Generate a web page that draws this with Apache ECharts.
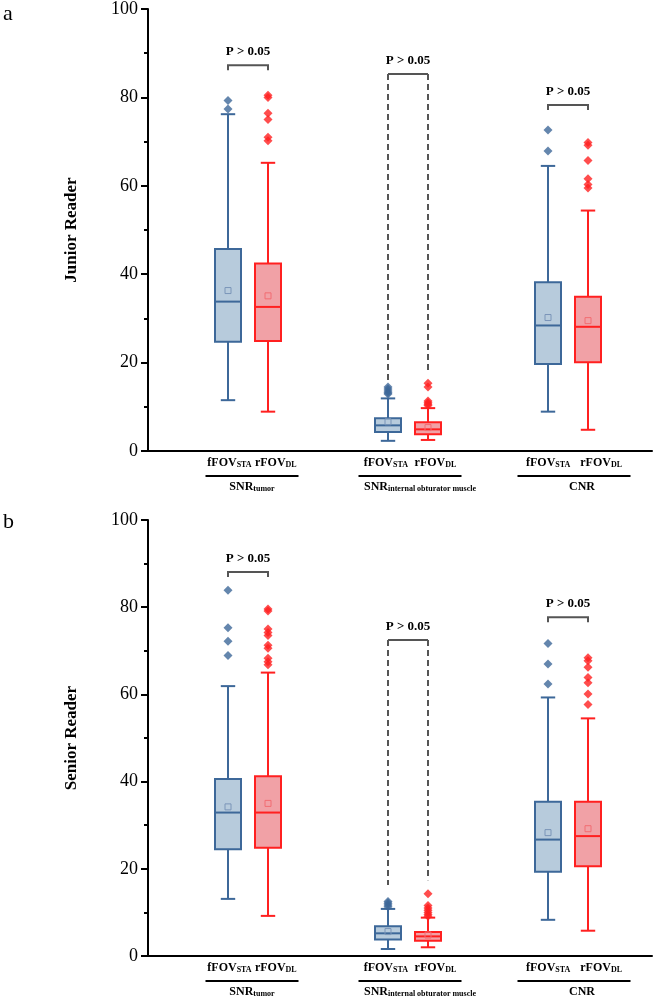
<!DOCTYPE html>
<html>
<head>
<meta charset="utf-8">
<script src="https://cdn.jsdelivr.net/npm/echarts@6/dist/echarts.min.js"></script>
<style>
html, body { margin: 0; padding: 0; background: #fff; }
#chart { width: 654px; height: 999px; }
</style>
</head>
<body>
<div id="chart"></div>
<script>
// box positions on the x value axis: fFOV_STA / rFOV_DL for each measure
var xPos = [2, 3, 6, 7, 10, 11];
var groupPos = [2.6, 6.55, 10.65];
var namePos = [2.6, 6.8, 10.85];
var rowLabels = ['{m|fFOV}{s|STA} {m|rFOV}{s|DL}', '{m|fFOV}{s|STA}  {m|rFOV}{s|DL}', '{m|fFOV}{s|STA}   {m|rFOV}{s|DL}'];
var groupNames = ['{m|SNR}{s|tumor}', '{m|SNR}{s|internal obturator muscle}', '{m|CNR}'];
var pText = 'P > 0.05';

// [min, Q1, median, Q3, max] per measure (SNR tumor, SNR muscle, CNR)
var juniorSTA = [[11.5, 24.7, 33.8, 45.7, 76.2], [2.3, 4.3, 5.8, 7.4, 11.9], [8.9, 19.7, 28.4, 38.2, 64.5]];
var juniorDL = [[8.9, 24.9, 32.6, 42.4, 65.2], [2.5, 3.8, 4.9, 6.5, 9.7], [4.8, 20.1, 28.1, 34.9, 54.4]];
var juniorMeanSTA = [36.3, 6.6, 30.2];
var juniorMeanDL = [35.1, 5.3, 29.5];
var juniorOutSTA = [[79.3, 77.4], [14.5, 14.0, 13.6, 13.2, 12.9], [72.6, 67.9]];
var juniorOutDL = [[80.5, 80.0, 76.4, 75.0, 71.0, 70.2], [15.3, 14.5, 11.3, 10.9, 10.6, 10.3], [69.8, 69.2, 65.7, 61.6, 60.3, 59.5]];
// [x1, x2, bracket y, dashed end 1, dashed end 2] (0 = short leg)
var juniorP = [[2, 3, 87.3, 0, 0], [6, 7, 85.3, 15.7, 17.6], [10, 11, 78.3, 0, 0]];

var seniorSTA = [[13.1, 24.5, 32.9, 40.6, 61.9], [1.6, 3.8, 5.2, 6.8, 10.8], [8.3, 19.3, 26.7, 35.4, 59.3]];
var seniorDL = [[9.2, 24.8, 32.9, 41.2, 65.0], [2.0, 3.5, 4.5, 5.5, 8.8], [5.8, 20.6, 27.5, 35.4, 54.5]];
var seniorMeanSTA = [34.2, 5.6, 28.3];
var seniorMeanDL = [35.0, 4.8, 29.2];
var seniorOutSTA = [[83.9, 75.3, 72.2, 68.9], [12.5, 12.1, 11.7, 11.3], [71.7, 67.0, 62.4]];
var seniorOutDL = [[79.6, 79.1, 75.0, 74.2, 73.5, 71.3, 70.6, 68.3, 67.5, 66.8], [14.3, 11.6, 11.0, 10.5, 10.0, 9.5, 9.1], [68.4, 67.7, 66.2, 63.9, 62.7, 60.1, 57.7]];
var seniorP = [[2, 3, 88.1, 0, 0], [6, 7, 72.5, 16.3, 17.4], [10, 11, 77.7, 0, 0]];

var FONT = '"Liberation Serif", "Times New Roman", serif';
var strokeCol = ['#3d6899', '#ff2020'];
var fillCol = ['#b7cbdc', '#f1a1a6'];
var meanCol = ['#7a95b8', '#f26d72'];

var subRich = {
    m: { fontFamily: FONT, fontSize: 12, fontWeight: 'bold', color: '#000', fill: '#000' },
    s: { fontFamily: FONT, fontSize: 8, fontWeight: 'bold', color: '#000', fill: '#000', verticalAlign: 'bottom', lineHeight: 6 }
};

function boxData(sta, dl, mSta, mDl) {
    var out = [];
    for (var g = 0; g < 3; g++) {
        out.push([xPos[g * 2]].concat(sta[g], [mSta[g], 0]));
        out.push([xPos[g * 2 + 1]].concat(dl[g], [mDl[g], 1]));
    }
    return out;
}

function outData(list, k) {
    var out = [];
    for (var g = 0; g < 3; g++) {
        for (var i = 0; i < list[g].length; i++) {
            out.push([xPos[g * 2 + k], list[g][i]]);
        }
    }
    return out;
}

function renderBox(params, api) {
    var x = api.value(0), ci = api.value(7);
    var lo = api.coord([x, api.value(1)]);
    var q1 = api.coord([x, api.value(2)]);
    var md = api.coord([x, api.value(3)]);
    var q3 = api.coord([x, api.value(4)]);
    var hi = api.coord([x, api.value(5)]);
    var mn = api.coord([x, api.value(6)]);
    var hw = api.size([0.65, 0])[0] / 2;
    var cw = api.size([0.36, 0])[0] / 2;
    var cx = lo[0];
    function ln() { return { stroke: strokeCol[ci], lineWidth: 2 }; }
    return {
        type: 'group',
        children: [
            { type: 'line', shape: { x1: cx, y1: hi[1], x2: cx, y2: q3[1] }, style: ln() },
            { type: 'line', shape: { x1: cx, y1: q1[1], x2: cx, y2: lo[1] }, style: ln() },
            { type: 'line', shape: { x1: cx - cw, y1: hi[1], x2: cx + cw, y2: hi[1] }, style: ln() },
            { type: 'line', shape: { x1: cx - cw, y1: lo[1], x2: cx + cw, y2: lo[1] }, style: ln() },
            { type: 'rect', shape: { x: cx - hw, y: q3[1], width: hw * 2, height: q1[1] - q3[1] },
              style: { fill: fillCol[ci], stroke: strokeCol[ci], lineWidth: 2 } },
            { type: 'line', shape: { x1: cx - hw, y1: md[1], x2: cx + hw, y2: md[1] }, style: ln() },
            { type: 'rect', shape: { x: mn[0] - 3, y: mn[1] - 3, width: 6, height: 6 },
              style: { fill: 'none', stroke: meanCol[ci], lineWidth: 1 } }
        ]
    };
}

function renderBracket(params, api) {
    var a = api.coord([api.value(0), api.value(2)]);
    var b = api.coord([api.value(1), api.value(2)]);
    var kids = [];
    if (api.value(3) > 0) {
        var ea = api.coord([api.value(0), api.value(3)]);
        var eb = api.coord([api.value(1), api.value(4)]);
        kids.push({ type: 'line', shape: { x1: a[0], y1: a[1], x2: b[0], y2: b[1] },
            style: { stroke: '#555', lineWidth: 2 } });
        kids.push({ type: 'line', shape: { x1: a[0], y1: a[1], x2: ea[0], y2: ea[1] },
            style: { stroke: '#555', lineWidth: 2, lineDash: [6, 4] } });
        kids.push({ type: 'line', shape: { x1: b[0], y1: b[1], x2: eb[0], y2: eb[1] },
            style: { stroke: '#555', lineWidth: 2, lineDash: [6, 4] } });
    } else {
        kids.push({ type: 'polyline',
            shape: { points: [[a[0], a[1] + 5], [a[0], a[1]], [b[0], b[1]], [b[0], b[1] + 5]] },
            style: { fill: 'none', stroke: '#555', lineWidth: 2 } });
    }
    kids.push({ type: 'text', style: { text: pText, x: (a[0] + b[0]) / 2, y: a[1] - 7,
        align: 'center', verticalAlign: 'bottom', font: 'bold 13px ' + FONT, fill: '#000' } });
    return { type: 'group', children: kids };
}

var ruleW = [93, 103, 113];
function renderGroup(params, api) {
    var i = params.dataIndex;
    var c = api.coord([api.value(0), 0]);
    var n = api.coord([api.value(1), 0]);
    return {
        type: 'group',
        children: [
            { type: 'text', style: { text: rowLabels[i], x: c[0], y: c[1] + 6,
              align: 'center', verticalAlign: 'top', rich: subRich } },
            { type: 'line', shape: { x1: c[0] - ruleW[i] / 2, y1: c[1] + 25, x2: c[0] + ruleW[i] / 2, y2: c[1] + 25 },
              style: { stroke: '#000', lineWidth: 2 } },
            { type: 'text', style: { text: groupNames[i], x: n[0], y: c[1] + 30,
              align: 'center', verticalAlign: 'top', rich: subRich } }
        ]
    };
}

function panelSeries(k, sta, dl, mSta, mDl, oSta, oDl, pData) {
    var groupData = groupPos.map(function (g, i) { return [g, namePos[i]]; });
    return [
        { type: 'custom', xAxisIndex: k, yAxisIndex: k, renderItem: renderBox,
          encode: { x: 0, y: [1, 2, 3, 4, 5] }, data: boxData(sta, dl, mSta, mDl), z: 2 },
        { type: 'scatter', xAxisIndex: k, yAxisIndex: k, symbol: 'diamond', symbolSize: 9,
          itemStyle: { color: strokeCol[0] }, data: outData(oSta, 0), z: 3 },
        { type: 'scatter', xAxisIndex: k, yAxisIndex: k, symbol: 'diamond', symbolSize: 9,
          itemStyle: { color: strokeCol[1] }, data: outData(oDl, 1), z: 3 },
        { type: 'custom', xAxisIndex: k, yAxisIndex: k, renderItem: renderBracket,
          encode: { x: [0, 1], y: 2 }, data: pData, z: 4 },
        { type: 'custom', xAxisIndex: k, yAxisIndex: k, renderItem: renderGroup,
          encode: { x: [0, 1] }, data: groupData, clip: false, z: 4 }
    ];
}

function xAxisFor(k) {
    return {
        type: 'value', gridIndex: k, min: 0, max: 12.6,
        axisLine: { lineStyle: { color: '#000', width: 2 } },
        axisTick: { show: false },
        splitLine: { show: false },
        axisLabel: { show: false }
    };
}

function yAxisFor(k, name) {
    return {
        type: 'value', gridIndex: k, min: 0, max: 100, interval: 20,
        name: name, nameLocation: 'middle', nameGap: 68,
        nameTextStyle: { fontFamily: FONT, fontSize: 17, fontWeight: 'bold', color: '#000' },
        axisLine: { show: true, lineStyle: { color: '#000', width: 2 } },
        axisTick: { show: true, length: 7, lineStyle: { color: '#000', width: 2 } },
        minorTick: { show: true, splitNumber: 2, length: 4, lineStyle: { color: '#000', width: 2 } },
        splitLine: { show: false },
        axisLabel: { fontFamily: FONT, fontSize: 18, color: '#000', margin: 10 }
    };
}

var chart = echarts.init(document.getElementById('chart'), null, { renderer: 'canvas' });
chart.setOption({
    animation: false,
    backgroundColor: '#fff',
    grid: [
        { left: 148, top: 9, height: 442, right: 2 },
        { left: 148, top: 520, height: 436, right: 2 }
    ],
    xAxis: [xAxisFor(0), xAxisFor(1)],
    yAxis: [yAxisFor(0, 'Junior Reader'), yAxisFor(1, 'Senior Reader')],
    graphic: [
        { type: 'text', left: 3, top: 3, style: { text: 'a', font: '22px ' + FONT, fill: '#000' } },
        { type: 'text', left: 3, top: 511, style: { text: 'b', font: '22px ' + FONT, fill: '#000' } }
    ],
    series: [].concat(
        panelSeries(0, juniorSTA, juniorDL, juniorMeanSTA, juniorMeanDL, juniorOutSTA, juniorOutDL, juniorP),
        panelSeries(1, seniorSTA, seniorDL, seniorMeanSTA, seniorMeanDL, seniorOutSTA, seniorOutDL, seniorP)
    )
});
</script>
</body>
</html>
